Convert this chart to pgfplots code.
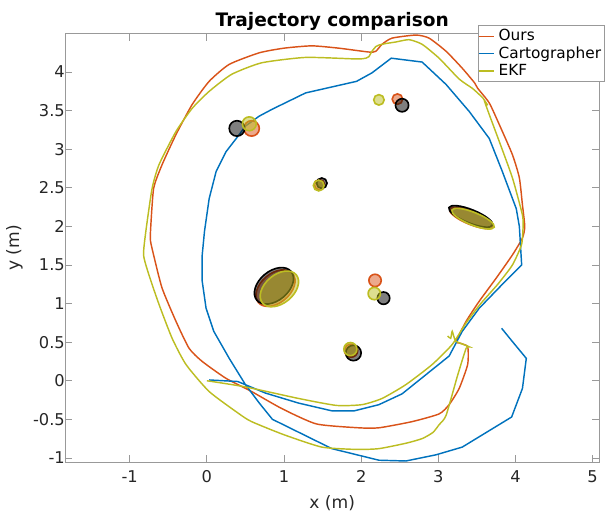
\documentclass[border=0pt]{standalone}
\usepackage{fontspec}
\setmainfont{DejaVu Sans}
\usepackage{pgfplots}
\pgfplotsset{compat=1.18}
\usepackage{pgfplotstable}

\definecolor{cOurs}{RGB}{217,83,25}
\definecolor{cCart}{RGB}{0,114,189}
\definecolor{cEKF}{RGB}{188,189,34}
\definecolor{cTick}{RGB}{38,38,38}

\pgfdeclareplotmark{lmk}{%
  \pgfscope
  \pgftransformrotate{\lmAng}%
  \pgfpathellipse{\pgfpointorigin}{\pgfpoint{\lmA*42.8pt}{0pt}}{\pgfpoint{0pt}{\lmB*42.8pt}}%
  \pgfusepathqfillstroke
  \endpgfscope}

\pgfplotstableread{
x y
-0.73 1.94
-0.69 2.49
-0.58 2.80
-0.40 3.19
-0.19 3.58
0.03 3.88
0.29 4.10
0.68 4.25
1.00 4.31
1.36 4.34
1.71 4.31
2.10 4.26
2.19 4.27
2.27 4.36
2.40 4.44
2.71 4.48
2.88 4.44
3.10 4.27
3.31 4.05
3.47 3.86
3.51 3.79
3.66 3.60
3.79 3.32
3.96 2.93
4.05 2.63
4.09 2.28
4.12 2.00
4.09 1.85
3.96 1.63
3.75 1.33
3.53 1.03
3.36 0.77
3.23 0.51
3.27 0.49
3.38 0.44
3.38 0.21
3.27 -0.10
3.14 -0.31
3.01 -0.43
2.66 -0.53
2.23 -0.61
1.97 -0.61
1.42 -0.56
0.97 -0.36
0.58 -0.14
0.25 0.03
-0.06 0.25
-0.23 0.42
-0.40 0.77
-0.58 1.20
-0.69 1.63
-0.73 1.81
-0.73 1.94
}\ours

\pgfplotstableread{
x y
0.03 0.01
0.40 -0.01
0.76 -0.16
1.19 -0.29
1.62 -0.39
1.91 -0.39
2.23 -0.31
2.53 -0.17
3.14 0.32
3.31 0.64
3.53 0.94
3.83 1.25
4.08 1.50
4.05 2.00
4.01 2.23
3.83 2.71
3.66 3.14
3.40 3.49
3.10 3.84
2.79 4.13
2.39 4.18
2.14 3.99
1.94 3.88
1.28 3.73
0.85 3.52
0.68 3.43
0.50 3.30
0.42 3.19
0.25 2.97
0.12 2.71
0.03 2.36
-0.03 1.94
-0.06 1.63
-0.06 1.29
-0.01 0.94
0.09 0.64
0.29 0.29
0.50 -0.05
0.68 -0.29
0.85 -0.50
1.62 -0.88
2.23 -1.03
2.58 -1.04
2.97 -0.96
3.31 -0.86
3.95 -0.47
4.09 -0.10
4.14 0.29
3.95 0.52
3.82 0.68
}\cart

\pgfplotstableread{
x y
0.00 0.00
0.50 -0.08
1.19 -0.23
1.68 -0.32
2.01 -0.31
2.27 -0.23
2.58 -0.05
2.92 0.21
3.18 0.47
3.36 0.75
3.55 1.00
3.77 1.25
3.96 1.50
4.08 1.77
4.10 2.06
4.08 2.19
3.96 2.63
3.79 3.10
3.66 3.45
3.60 3.62
3.64 3.57
3.58 3.66
3.53 3.71
3.44 3.79
3.27 3.91
3.01 4.18
2.79 4.36
2.62 4.42
2.45 4.39
2.32 4.37
2.23 4.35
2.19 4.33
2.14 4.27
2.10 4.20
2.06 4.18
1.94 4.17
1.28 4.19
0.71 4.12
0.32 3.97
0.03 3.75
-0.19 3.53
-0.40 3.23
-0.62 2.80
-0.71 2.49
-0.79 1.94
-0.82 1.63
-0.75 1.37
-0.62 0.99
-0.45 0.55
-0.27 0.21
0.03 -0.14
0.42 -0.43
0.58 -0.53
1.00 -0.70
1.49 -0.86
1.94 -0.89
2.23 -0.88
2.58 -0.81
2.79 -0.75
2.93 -0.67
3.01 -0.57
3.10 -0.45
3.25 0.07
3.36 0.42
3.40 0.44
3.30 0.48
3.22 0.52
3.18 0.64
3.16 0.55
3.12 0.58
}\ekf

% landmarks: centre, semi-axes (m), angle (deg)
\pgfplotstableread{
x y a b ang
0.58 3.27 0.100 0.100 0
2.47 3.65 0.068 0.068 0
1.46 2.54 0.068 0.068 0
0.89 1.20 0.290 0.190 40
3.43 2.11 0.305 0.087 -22
2.18 1.30 0.080 0.080 0
1.87 0.39 0.085 0.085 0
}\landours

\pgfplotstableread{
x y a b ang
0.39 3.27 0.100 0.100 0
2.53 3.57 0.085 0.085 0
1.49 2.56 0.068 0.068 0
0.87 1.23 0.290 0.190 40
3.42 2.13 0.305 0.087 -22
2.29 1.07 0.080 0.080 0
1.90 0.36 0.100 0.100 0
}\landgt

\pgfplotstableread{
x y a b ang
0.55 3.33 0.090 0.090 0
2.23 3.64 0.068 0.068 0
1.45 2.53 0.070 0.070 0
0.94 1.19 0.285 0.185 40
3.45 2.10 0.295 0.082 -22
2.17 1.13 0.080 0.080 0
1.86 0.41 0.085 0.085 0
}\landekf

\pgfplotsset{
  landmark/.style={forget plot, only marks, scatter, mark=lmk,
    scatter/@pre marker code/.code={},
    scatter/@post marker code/.code={},
    visualization depends on={\thisrow{a} \as \lmA},
    visualization depends on={\thisrow{b} \as \lmB},
    visualization depends on={\thisrow{ang} \as \lmAng},
    mark options={draw=#1, fill=#1, fill opacity=0.5, line width=0.9pt}},
}

\begin{document}
\begin{tikzpicture}
\begin{axis}[
  x=42.8pt, y=42.8pt,
  xmin=-1.84, xmax=5.09, ymin=-1.06, ymax=4.5,
  xtick={-1,0,1,2,3,4,5},
  xticklabels={-1,0,1,2,3,4,5},
  ytick={-1,-0.5,0,0.5,1,1.5,2,2.5,3,3.5,4},
  yticklabels={-1,-0.5,0,0.5,1,1.5,2,2.5,3,3.5,4},
  axis line style={black!40},
  tick style={black!40, thin},
  tick align=inside,
  major tick length=4pt,
  ticklabel style={font=\fontsize{9}{10}\selectfont, text=cTick},
  yticklabel style={xshift=3.5pt},
  xticklabel style={yshift=-1pt},
  xlabel={x (m)}, ylabel={y (m)},
  label style={font=\fontsize{9.5}{11}\selectfont, text=cTick},
  ylabel style={yshift=-1pt},
  title={Trajectory comparison},
  title style={font=\bfseries\fontsize{10.3}{12}\selectfont, yshift=-8pt, text height=11.5pt},
  legend style={at={(rel axis cs:1,1)}, anchor=north east, xshift=3pt, yshift=4.5pt,
    draw=black!40, fill=white, font=\fontsize{8.5}{10}\selectfont,
    inner xsep=0pt, inner ysep=0pt, row sep=-2.3pt, cells={anchor=west}},
  legend image code/.code={\draw[#1, line width=0.9pt] (0cm,0cm) -- (0.3cm,0cm);},
  clip=true,
]
\addplot[cOurs, line width=0.8pt, smooth, tension=0.35] table[x=x,y=y]{\ours};
\addlegendentry{Ours}
\addplot[cCart, line width=0.8pt] table[x=x,y=y]{\cart};
\addlegendentry{Cartographer}
\addplot[cEKF, line width=0.8pt, smooth, tension=0.35] table[x=x,y=y]{\ekf};
\addlegendentry{EKF}

\addplot[landmark=cOurs] table[x=x,y=y]{\landours};
\addplot[landmark=black] table[x=x,y=y]{\landgt};
\addplot[landmark=cEKF] table[x=x,y=y]{\landekf};
\end{axis}
\end{tikzpicture}
\end{document}
